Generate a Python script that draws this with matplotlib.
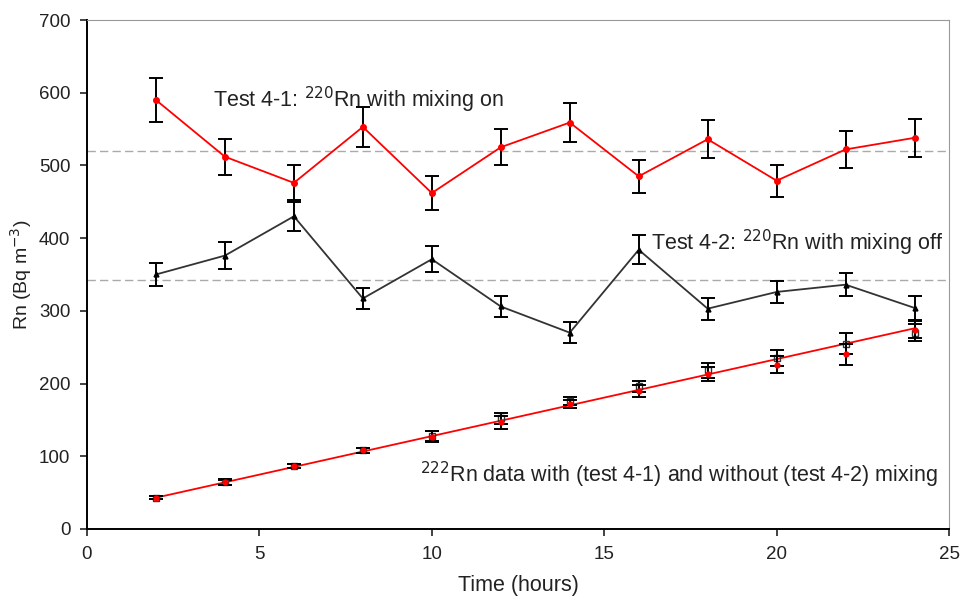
import matplotlib.pyplot as plt

plt.rcParams['font.family'] = ['Liberation Sans', 'DejaVu Sans']

# sampling times (hours)
hours = [2, 4, 6, 8, 10, 12, 14, 16, 18, 20, 22, 24]

# test 4-1: 220Rn with mixing on
rn220_on = [590, 512, 476, 553, 462, 525, 559, 485, 536, 479, 522, 538]
rn220_on_err = [30, 25, 24, 28, 23, 25, 27, 23, 26, 22, 25, 26]

# test 4-2: 220Rn with mixing off
rn220_off = [350, 376, 430, 317, 371, 306, 270, 384, 303, 326, 336, 304]
rn220_off_err = [16, 18, 20, 15, 18, 15, 14, 20, 15, 15, 16, 16]

# 222Rn, test 4-1 (with mixing) and test 4-2 (without)
rn222_on = [43, 65, 87, 108, 127, 147, 172, 190, 213, 226, 240, 274]
rn222_on_err = [2, 4, 3, 4, 8, 9, 6, 8, 10, 12, 15, 12]
rn222_off = [43, 64, 87, 108, 128, 152, 176, 196, 218, 235, 255, 270]
rn222_off_err = [2, 4, 3, 4, 7, 8, 6, 7, 10, 11, 14, 12]

# linear fit through the 222Rn data
fit_x = [2, 24]
fit_y = [43, 276]

# mean 220Rn levels
mean_on = 520
mean_off = 343

fig = plt.figure(figsize=(9.6, 5.99), dpi=100)
ax = fig.add_axes([0.0906, 0.1169, 0.898, 0.8497])

ax.axhline(mean_on, color='#aaaaaa', lw=1, ls=(0, (6, 3)), zorder=1)
ax.axhline(mean_off, color='#aaaaaa', lw=1, ls=(0, (6, 3)), zorder=1)

eb = dict(ecolor='black', elinewidth=1.4, capsize=5, capthick=1.4)

ax.errorbar(hours, rn220_on, yerr=rn220_on_err, color='red', lw=1.3,
            marker='o', ms=4, mfc='red', mec='red', zorder=3, **eb)
ax.errorbar(hours, rn220_off, yerr=rn220_off_err, color='#333333', lw=1.3,
            marker='^', ms=3.5, mfc='black', mec='black', zorder=3, **eb)

ax.plot(fit_x, fit_y, color='red', lw=1.3, zorder=2)
ax.errorbar(hours, rn222_off, yerr=rn222_off_err, ls='none', marker='s', ms=5,
            mfc='none', mec='#333333', zorder=3, **eb)
ax.errorbar(hours, rn222_on, yerr=rn222_on_err, ls='none', marker='o', ms=3.5,
            mfc='red', mec='red', zorder=4, **eb)

ax.text(3.65, 590, 'Test 4-1: $^{220}$Rn with mixing on', fontsize=15.5,
        va='center', color='#222222')
ax.text(16.35, 393, 'Test 4-2: $^{220}$Rn with mixing off', fontsize=15.5,
        va='center', color='#222222')
ax.text(9.66, 74, '$^{222}$Rn data with (test 4-1) and without (test 4-2) mixing',
        fontsize=15.5, va='center', color='#222222')

ax.set_xlim(0, 25)
ax.set_ylim(0, 700)
ax.set_xticks([0, 5, 10, 15, 20, 25])
ax.set_yticks(range(0, 701, 100))
ax.tick_params(direction='out', length=5, width=1.2, labelsize=13.5,
               colors='#222222', pad=7)
ax.set_xlabel('Time (hours)', fontsize=15.5, color='#222222', labelpad=9)
ax.set_ylabel('Rn (Bq m$^{-3}$)', fontsize=14, color='#222222')
ax.yaxis.set_label_coords(-0.061, 0.5)

ax.spines['left'].set_linewidth(1.4)
ax.spines['bottom'].set_linewidth(1.4)
ax.spines['top'].set_color('#999999')
ax.spines['right'].set_color('#999999')

fig.savefig('out.png', dpi=100)
